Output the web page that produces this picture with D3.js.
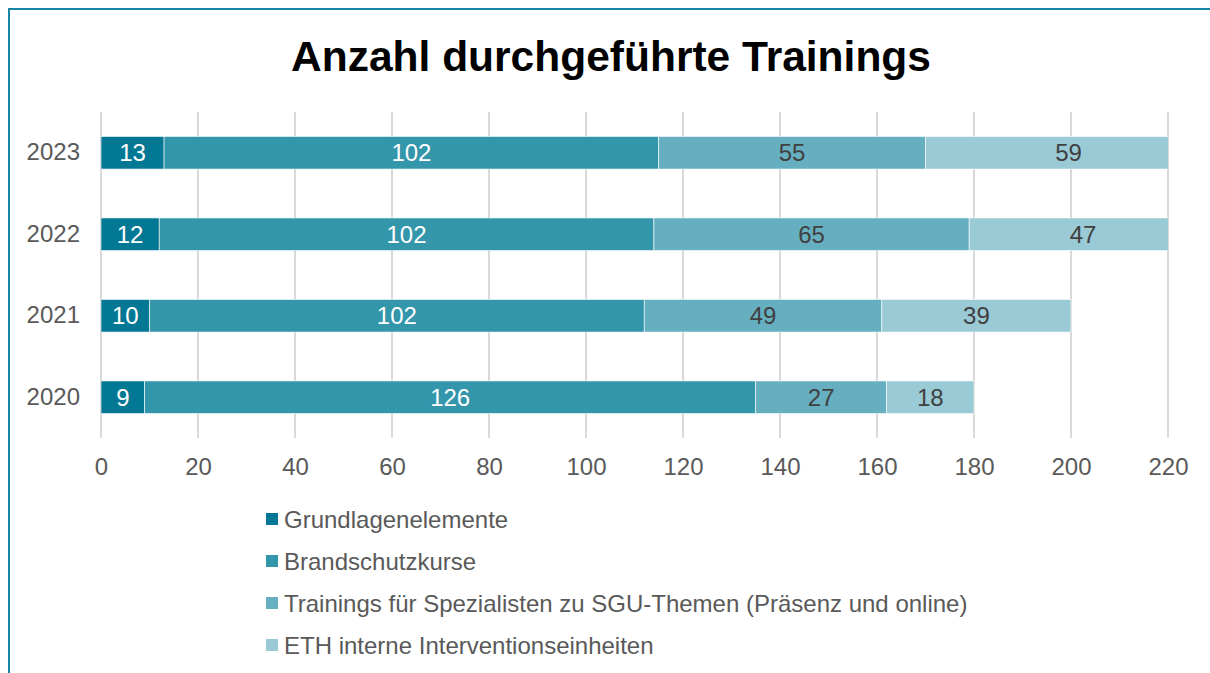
<!DOCTYPE html>
<html><head><meta charset="utf-8">
<script src="https://cdn.jsdelivr.net/npm/d3@7"></script>
<style>body{margin:0;background:#fff;}svg{display:block;font-family:"Liberation Sans",Arial,sans-serif;}</style>
</head><body><svg id="c" width="1210" height="673"></svg>
<script>
const years = ["2023","2022","2021","2020"];
const seriesNames = ["Grundlagenelemente","Brandschutzkurse","Trainings für Spezialisten zu SGU-Themen (Präsenz und online)","ETH interne Interventionseinheiten"];
const grundlagen = [13,12,10,9];
const brandschutz = [102,102,102,126];
const spezialisten = [55,65,49,27];
const eth = [59,47,39,18];
const xTicks = [0,20,40,60,80,100,120,140,160,180,200,220];
const colors = ["#037894","#3396ab","#66afc1","#9acad6"];
const labelColors = ["#ffffff","#ffffff","#404040","#404040"];

const svg = d3.select("#c");
svg.append("rect").attr("x",9).attr("y",9).attr("width",1220).attr("height",700)
  .attr("fill","none").attr("stroke","#1784a3").attr("stroke-width",2);

svg.append("text").attr("x",611).attr("y",71).attr("text-anchor","middle")
  .attr("font-size",42.5).attr("font-weight","bold").attr("fill","#000").text("Anzahl durchgeführte Trainings");

const x = d3.scaleLinear().domain([0,220]).range([101,1168]);
const y = d3.scaleBand().domain(years).range([112,438]).paddingInner(0.6).paddingOuter(0.3);

svg.append("defs").append("clipPath").attr("id","pc").append("rect")
  .attr("x",x(0)).attr("y",100).attr("width",x(220)-x(0)).attr("height",360);

// gridlines
svg.append("g").selectAll("line").data(xTicks).join("line")
  .attr("x1",d=>x(d)).attr("x2",d=>x(d)).attr("y1",112).attr("y2",438)
  .attr("stroke","#d9d9d9").attr("stroke-width",2);

const series = [grundlagen,brandschutz,spezialisten,eth];
const data = years.map((yr,i)=>({year:yr, vals:series.map(s=>s[i])}));
const stack = d3.stack().keys([0,1,2,3]).value((d,k)=>d.vals[k]);
const stacked = stack(data);

const gb = svg.append("g").attr("clip-path","url(#pc)");
stacked.forEach((layer,k)=>{
  gb.selectAll(null).data(layer).join("rect")
    .attr("x",d=>x(d[0])).attr("width",d=>x(d[1])-x(d[0]))
    .attr("y",d=>y(d.data.year)).attr("height",y.bandwidth())
    .attr("fill",colors[k]).attr("stroke","#ffffff").attr("stroke-width",0.6);
});
stacked.forEach((layer,k)=>{
  svg.append("g").selectAll("text").data(layer).join("text")
    .attr("x",d=>x((d[0]+d[1])/2)).attr("y",d=>y(d.data.year)+y.bandwidth()/2)
    .attr("dy","0.36em").attr("text-anchor","middle").attr("font-size",24)
    .attr("fill",labelColors[k]).text(d=>d.data.vals[k]);
});

// x axis labels
const xa = svg.append("g").attr("transform","translate(0,438)")
  .call(d3.axisBottom(x).tickValues(xTicks).tickSize(0).tickPadding(20));
xa.select(".domain").remove();
xa.selectAll("text").attr("font-size",24).attr("fill","#595959").attr("font-family","Liberation Sans, Arial, sans-serif");

// y axis labels
const ya = svg.append("g").attr("transform","translate(101,0)")
  .call(d3.axisLeft(y).tickSize(0).tickPadding(21));
ya.select(".domain").remove();
ya.selectAll("text").attr("font-size",24).attr("fill","#595959").attr("font-family","Liberation Sans, Arial, sans-serif");

// legend
const lg = svg.append("g");
const ly = [519,561,603,645];
seriesNames.forEach((n,i)=>{
  lg.append("rect").attr("x",266).attr("y",ly[i]-6).attr("width",12).attr("height",12).attr("fill",colors[i]);
  lg.append("text").attr("x",284).attr("y",ly[i]).attr("dy","0.36em").attr("font-size",24)
    .attr("fill","#595959").text(n);
});
</script></body></html>
